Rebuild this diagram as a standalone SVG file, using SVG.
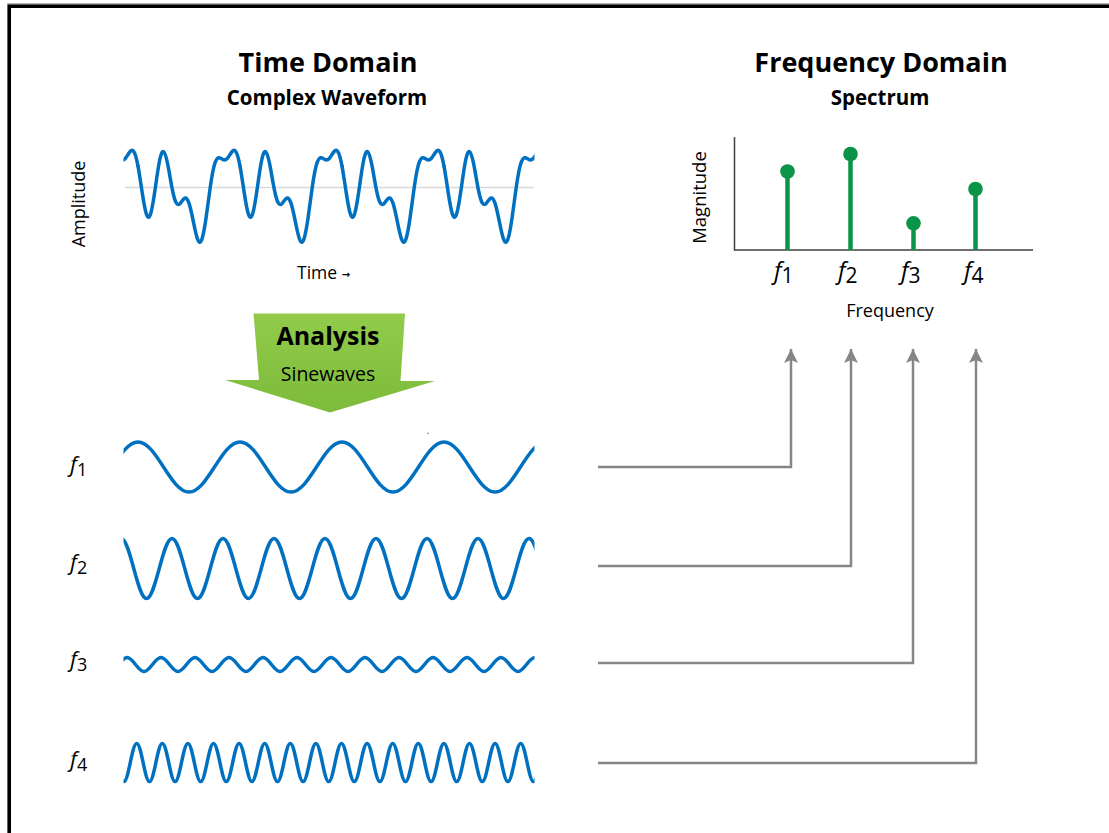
<svg xmlns="http://www.w3.org/2000/svg" xmlns:xlink="http://www.w3.org/1999/xlink" width="1109" height="833" viewBox="0 0 1109 833">
<style>
.t{font-family:"Open Sans","Noto Sans","Liberation Sans",sans-serif;fill:#000}
.b{font-weight:700}
.it{font-style:italic}
.wave{fill:none;stroke:#0070c0;stroke-width:3.5;stroke-linecap:round;stroke-linejoin:round}
.stem{stroke:#0a9447;stroke-width:4.5}
.dot{fill:#0a9447}
.axis{stroke:#404040;stroke-width:1.5;fill:none}
.conn{fill:none;stroke:#868686;stroke-width:2.5}
</style>
<defs>
<clipPath id="wclip"><rect x="123.5" y="0" width="411" height="833"/></clipPath>
<marker id="ah" viewBox="0 0 16 14" refX="14" refY="7" markerWidth="16" markerHeight="14" markerUnits="userSpaceOnUse" orient="auto">
<path d="M0,0 L14,7 L0,14 L3,7 Z" fill="#868686"/>
</marker>
<linearGradient id="gg" x1="0" y1="0" x2="0" y2="1">
<stop offset="0" stop-color="#92cb4a"/>
<stop offset="1" stop-color="#7dbb3a"/>
</linearGradient>
<path id="cp" d="M138,166.07 C139.42,173.64 140.83,183.64 142.25,192.86 S145.08,210.31 146.5,214.36 S149.33,218.17 150.75,213.53 S153.58,199.97 155,190.09 S157.83,169.63 159.25,162.28 S162.08,150.99 163.5,151.6 S166.33,157.29 167.75,164.43 S170.58,180.52 172,187.82 S174.83,200.58 176.25,202.97 S179.08,204.75 180.5,203.04 S183.33,198.76 184.75,198.12 S187.58,198.95 189,203.12 S191.83,214.1 193.25,221.14 S196.08,235.21 197.5,239.06 S200.33,243.42 201.75,239.7 S204.58,228.09 206,218.32 S208.83,197.12 210.25,187.31 S213.08,169.47 214.5,164.58 S217.33,157.89 218.75,157.76 S221.58,158.97 223,159.58 S225.83,159.94 227.25,158.44 S230.08,154.27 231.5,152.36 S234.33,149.49 235.75,151.47 S238.58,158.5 240,166.07"/>
</defs>
<rect x="0" y="0" width="1109" height="833" fill="#fff"/>
<g id="frame">
<line x1="7" y1="3.8" x2="1109" y2="3.8" stroke="#999" stroke-width="1"/>
<rect x="9.2" y="6.2" width="1200" height="900" fill="none" stroke="#000" stroke-width="3.6"/>
</g>

<g id="title-time">
<text class="t b" x="328" y="72" font-size="27" text-anchor="middle">Time Domain</text>
<text class="t b" x="327" y="105" font-size="20.5" text-anchor="middle">Complex Waveform</text>
</g>
<g id="title-frequency">
<text class="t b" x="881" y="72" font-size="27" text-anchor="middle">Frequency Domain</text>
<text class="t b" x="880" y="105" font-size="20.5" text-anchor="middle">Spectrum</text>
</g>

<g id="complex-waveform">
<line x1="125" y1="187.5" x2="534" y2="187.5" stroke="#d9d9d9" stroke-width="1.5"/>
<g class="wave" clip-path="url(#wclip)">
<use xlink:href="#cp" href="#cp" transform="translate(-102,0)"/>
<use xlink:href="#cp" href="#cp"/>
<use xlink:href="#cp" href="#cp" transform="translate(102,0)"/>
<use xlink:href="#cp" href="#cp" transform="translate(204,0)"/>
<use xlink:href="#cp" href="#cp" transform="translate(306,0)"/>
</g>
<text class="t" font-size="18" text-anchor="middle" transform="translate(85,204) rotate(-90)">Amplitude</text>
<text class="t" x="297" y="279" font-size="17.5">Time <tspan font-family="DejaVu Sans" font-weight="700" font-size="10" dy="-1">→</tspan></text>
</g>

<g id="spectrum">
<polyline class="axis" points="734.5,137 734.5,250 1033,250"/>
<line class="stem" x1="787.5" y1="172" x2="787.5" y2="250"/>
<line class="stem" x1="850.5" y1="154" x2="850.5" y2="250"/>
<line class="stem" x1="913.5" y1="223" x2="913.5" y2="250"/>
<line class="stem" x1="975.5" y1="189" x2="975.5" y2="250"/>
<circle class="dot" cx="787.5" cy="171.5" r="7.3"/>
<circle class="dot" cx="850.5" cy="154" r="7.3"/>
<circle class="dot" cx="913.5" cy="223.3" r="7.3"/>
<circle class="dot" cx="975.5" cy="189" r="7.3"/>
<text class="t" font-size="18.5" text-anchor="middle" transform="translate(706,197.5) rotate(-90)">Magnitude</text>
<text class="t" x="774" y="279" font-size="24"><tspan class="it">f</tspan><tspan dy="4" font-size="21">1</tspan></text>
<text class="t" x="838" y="279" font-size="24"><tspan class="it">f</tspan><tspan dy="4" font-size="21">2</tspan></text>
<text class="t" x="901" y="279" font-size="24"><tspan class="it">f</tspan><tspan dy="4" font-size="21">3</tspan></text>
<text class="t" x="964" y="279" font-size="24"><tspan class="it">f</tspan><tspan dy="4" font-size="21">4</tspan></text>
<text class="t" x="890" y="317" font-size="18" text-anchor="middle">Frequency</text>
</g>

<g id="analysis-arrow">
<polygon points="253.5,313.5 405,313.5 400.5,381 435,381 330,412.5 225,380 259,380" fill="url(#gg)"/>
<text class="t b" x="328" y="345" font-size="25" text-anchor="middle">Analysis</text>
<text class="t" x="328" y="381" font-size="19.5" text-anchor="middle">Sinewaves</text>
</g>

<g id="wave-f1">
<text class="t" x="70" y="472" font-size="22"><tspan class="it">f</tspan><tspan dy="4" font-size="18">1</tspan></text>
<path class="wave" clip-path="url(#wclip)" d="M112.5,467 c8.31,-12.81 16.27,-25 25.5,-25 s17.19,12.19 25.5,25 s16.27,25 25.5,25 s17.19,-12.19 25.5,-25 s16.27,-25 25.5,-25 s17.19,12.19 25.5,25 s16.27,25 25.5,25 s17.19,-12.19 25.5,-25 s16.27,-25 25.5,-25 s17.19,12.19 25.5,25 s16.27,25 25.5,25 s17.19,-12.19 25.5,-25 s16.27,-25 25.5,-25 s17.19,12.19 25.5,25 s16.27,25 25.5,25 s17.19,-12.19 25.5,-25 s16.27,-25 25.5,-25 s17.19,12.19 25.5,25 s16.27,25 25.5,25 s17.19,-12.19 25.5,-25"/>
<circle cx="428" cy="433.3" r="0.7" fill="#555"/>
</g>

<g id="wave-f2">
<text class="t" x="70" y="570" font-size="22"><tspan class="it">f</tspan><tspan dy="4" font-size="18">2</tspan></text>
<path class="wave" clip-path="url(#wclip)" d="M108.25,568.5 c4.16,-15.37 8.13,-30 12.75,-30 s8.59,14.63 12.75,30 s8.13,30 12.75,30 s8.59,-14.63 12.75,-30 s8.13,-30 12.75,-30 s8.59,14.63 12.75,30 s8.13,30 12.75,30 s8.59,-14.63 12.75,-30 s8.13,-30 12.75,-30 s8.59,14.63 12.75,30 s8.13,30 12.75,30 s8.59,-14.63 12.75,-30 s8.13,-30 12.75,-30 s8.59,14.63 12.75,30 s8.13,30 12.75,30 s8.59,-14.63 12.75,-30 s8.13,-30 12.75,-30 s8.59,14.63 12.75,30 s8.13,30 12.75,30 s8.59,-14.63 12.75,-30 s8.13,-30 12.75,-30 s8.59,14.63 12.75,30 s8.13,30 12.75,30 s8.59,-14.63 12.75,-30 s8.13,-30 12.75,-30 s8.59,14.63 12.75,30 s8.13,30 12.75,30 s8.59,-14.63 12.75,-30 s8.13,-30 12.75,-30 s8.59,14.63 12.75,30 s8.13,30 12.75,30 s8.59,-14.63 12.75,-30 s8.13,-30 12.75,-30 s8.59,14.63 12.75,30 s8.13,30 12.75,30 s8.59,-14.63 12.75,-30"/>
</g>

<g id="wave-f3">
<text class="t" x="70" y="667" font-size="22"><tspan class="it">f</tspan><tspan dy="4" font-size="18">3</tspan></text>
<path class="wave" clip-path="url(#wclip)" d="M118.5,664.5 c2.77,-3.59 5.42,-7 8.5,-7 s5.73,3.41 8.5,7 s5.42,7 8.5,7 s5.73,-3.41 8.5,-7 s5.42,-7 8.5,-7 s5.73,3.41 8.5,7 s5.42,7 8.5,7 s5.73,-3.41 8.5,-7 s5.42,-7 8.5,-7 s5.73,3.41 8.5,7 s5.42,7 8.5,7 s5.73,-3.41 8.5,-7 s5.42,-7 8.5,-7 s5.73,3.41 8.5,7 s5.42,7 8.5,7 s5.73,-3.41 8.5,-7 s5.42,-7 8.5,-7 s5.73,3.41 8.5,7 s5.42,7 8.5,7 s5.73,-3.41 8.5,-7 s5.42,-7 8.5,-7 s5.73,3.41 8.5,7 s5.42,7 8.5,7 s5.73,-3.41 8.5,-7 s5.42,-7 8.5,-7 s5.73,3.41 8.5,7 s5.42,7 8.5,7 s5.73,-3.41 8.5,-7 s5.42,-7 8.5,-7 s5.73,3.41 8.5,7 s5.42,7 8.5,7 s5.73,-3.41 8.5,-7 s5.42,-7 8.5,-7 s5.73,3.41 8.5,7 s5.42,7 8.5,7 s5.73,-3.41 8.5,-7 s5.42,-7 8.5,-7 s5.73,3.41 8.5,7 s5.42,7 8.5,7 s5.73,-3.41 8.5,-7 s5.42,-7 8.5,-7 s5.73,3.41 8.5,7 s5.42,7 8.5,7 s5.73,-3.41 8.5,-7 s5.42,-7 8.5,-7 s5.73,3.41 8.5,7 s5.42,7 8.5,7 s5.73,-3.41 8.5,-7 s5.42,-7 8.5,-7 s5.73,3.41 8.5,7 s5.42,7 8.5,7 s5.73,-3.41 8.5,-7"/>
</g>

<g id="wave-f4">
<text class="t" x="70" y="767" font-size="22"><tspan class="it">f</tspan><tspan dy="4" font-size="18">4</tspan></text>
<path class="wave" clip-path="url(#wclip)" d="M104.7,762.5 c2.09,-9.73 4.08,-19 6.4,-19 s4.31,9.27 6.4,19 s4.08,19 6.4,19 s4.31,-9.27 6.4,-19 s4.08,-19 6.4,-19 s4.31,9.27 6.4,19 s4.08,19 6.4,19 s4.31,-9.27 6.4,-19 s4.08,-19 6.4,-19 s4.31,9.27 6.4,19 s4.08,19 6.4,19 s4.31,-9.27 6.4,-19 s4.08,-19 6.4,-19 s4.31,9.27 6.4,19 s4.08,19 6.4,19 s4.31,-9.27 6.4,-19 s4.08,-19 6.4,-19 s4.31,9.27 6.4,19 s4.08,19 6.4,19 s4.31,-9.27 6.4,-19 s4.08,-19 6.4,-19 s4.31,9.27 6.4,19 s4.08,19 6.4,19 s4.31,-9.27 6.4,-19 s4.08,-19 6.4,-19 s4.31,9.27 6.4,19 s4.08,19 6.4,19 s4.31,-9.27 6.4,-19 s4.08,-19 6.4,-19 s4.31,9.27 6.4,19 s4.08,19 6.4,19 s4.31,-9.27 6.4,-19 s4.08,-19 6.4,-19 s4.31,9.27 6.4,19 s4.08,19 6.4,19 s4.31,-9.27 6.4,-19 s4.08,-19 6.4,-19 s4.31,9.27 6.4,19 s4.08,19 6.4,19 s4.31,-9.27 6.4,-19 s4.08,-19 6.4,-19 s4.31,9.27 6.4,19 s4.08,19 6.4,19 s4.31,-9.27 6.4,-19 s4.08,-19 6.4,-19 s4.31,9.27 6.4,19 s4.08,19 6.4,19 s4.31,-9.27 6.4,-19 s4.08,-19 6.4,-19 s4.31,9.27 6.4,19 s4.08,19 6.4,19 s4.31,-9.27 6.4,-19 s4.08,-19 6.4,-19 s4.31,9.27 6.4,19 s4.08,19 6.4,19 s4.31,-9.27 6.4,-19 s4.08,-19 6.4,-19 s4.31,9.27 6.4,19 s4.08,19 6.4,19 s4.31,-9.27 6.4,-19 s4.08,-19 6.4,-19 s4.31,9.27 6.4,19 s4.08,19 6.4,19 s4.31,-9.27 6.4,-19 s4.08,-19 6.4,-19 s4.31,9.27 6.4,19 s4.08,19 6.4,19 s4.31,-9.27 6.4,-19"/>
</g>

<g id="connectors">
<polyline class="conn" points="598,467 791,467 791,349" marker-end="url(#ah)"/>
<polyline class="conn" points="598,566 851,566 851,349" marker-end="url(#ah)"/>
<polyline class="conn" points="598,663 913,663 913,349" marker-end="url(#ah)"/>
<polyline class="conn" points="598,763 976,763 976,349" marker-end="url(#ah)"/>
</g>
</svg>
